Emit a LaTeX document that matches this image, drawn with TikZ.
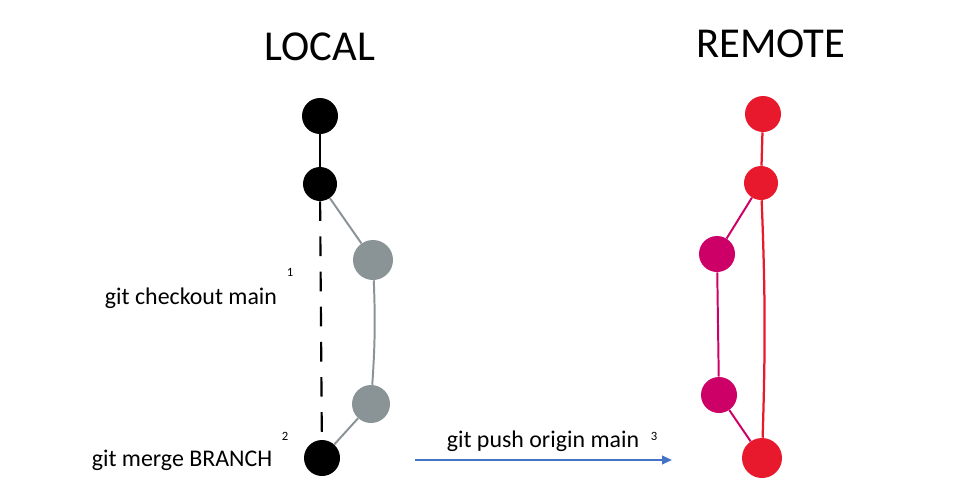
\documentclass[tikz,border=0pt]{standalone}
\usepackage{fontspec}
\setmainfont{Carlito}
\usetikzlibrary{arrows.meta}
\definecolor{commitgray}{HTML}{8A9497}
\definecolor{remotered}{HTML}{E8192C}
\definecolor{remotepink}{HTML}{CC0066}
\definecolor{pushblue}{HTML}{4472C4}
\newlength{\pxu}
\setlength{\pxu}{0.025cm}
\tikzset{
  commit/.style={circle, inner sep=0pt, minimum size=36\pxu},
}
\begin{document}
\begin{tikzpicture}[x=0.025cm, y=-0.025cm]
  \useasboundingbox (0,0) rectangle (960,480);
  % Titles
  \node[font=\fontsize{30.3}{34}\selectfont] (local) at (320,47) {LOCAL};
  \node[font=\fontsize{30.3}{34}\selectfont] (remote) at (771,44) {REMOTE};
  % Local commits
  \node[commit, fill=black] (l1) at (320,116) {};
  \node[commit, fill=black, minimum size=34\pxu] (l2) at (320,184) {};
  \node[commit, fill=commitgray, minimum size=40\pxu] (b1) at (373,260) {};
  \node[commit, fill=commitgray, minimum size=38\pxu] (b2) at (371,404) {};
  \node[commit, fill=black] (l3) at (322,458) {};
  % Local edges
  \draw[line width=1.5pt] (l1) -- (l2);
  \draw[line width=1.5pt, dash pattern=on 14pt off 11pt] (l2) -- (l3);
  \draw[commitgray, line width=1.4pt] (l2) -- (b1);
  \draw[commitgray, line width=1.4pt] (b1) to[bend left=3] (b2);
  \draw[commitgray, line width=1.4pt] (b2) -- (l3);
  % Remote commits
  \node[commit, fill=remotered] (r1) at (763,114) {};
  \node[commit, fill=remotered, minimum size=34\pxu] (r2) at (761,183) {};
  \node[commit, fill=remotepink] (p1) at (717,254) {};
  \node[commit, fill=remotepink] (p2) at (719,395) {};
  \node[commit, fill=remotered, minimum size=40\pxu] (r3) at (762,458) {};
  % Remote edges
  \draw[remotered, line width=1.6pt] (r1) -- (r2);
  \draw[remotered, line width=1.6pt] (r2) to[bend left=2] (r3);
  \draw[remotepink, line width=1.4pt] (r2) -- (p1);
  \draw[remotepink, line width=1.4pt] (p1) -- (p2);
  \draw[remotepink, line width=1.4pt] (p2) -- (r3);
  % Commands
  \node[font=\fontsize{17}{20}\selectfont] (checkout) at (191,298) {git checkout main};
  \node[font=\fontsize{9}{10}\selectfont] (n1) at (290,272) {1};
  \node[font=\fontsize{17}{20}\selectfont] (merge) at (182,460) {git merge BRANCH};
  \node[font=\fontsize{9}{10}\selectfont] (n2) at (285,436) {2};
  \node[font=\fontsize{17}{20}\selectfont] (push) at (543,441) {git push origin main};
  \node[font=\fontsize{9}{10}\selectfont] (n3) at (654,436) {3};
  % Push arrow
  \coordinate (pushstart) at (415,460);
  \coordinate (pushend) at (672,460);
  \draw[pushblue, line width=1.5pt, -{Triangle[length=7pt,width=6pt]}] (pushstart) -- (pushend);
\end{tikzpicture}
\end{document}
